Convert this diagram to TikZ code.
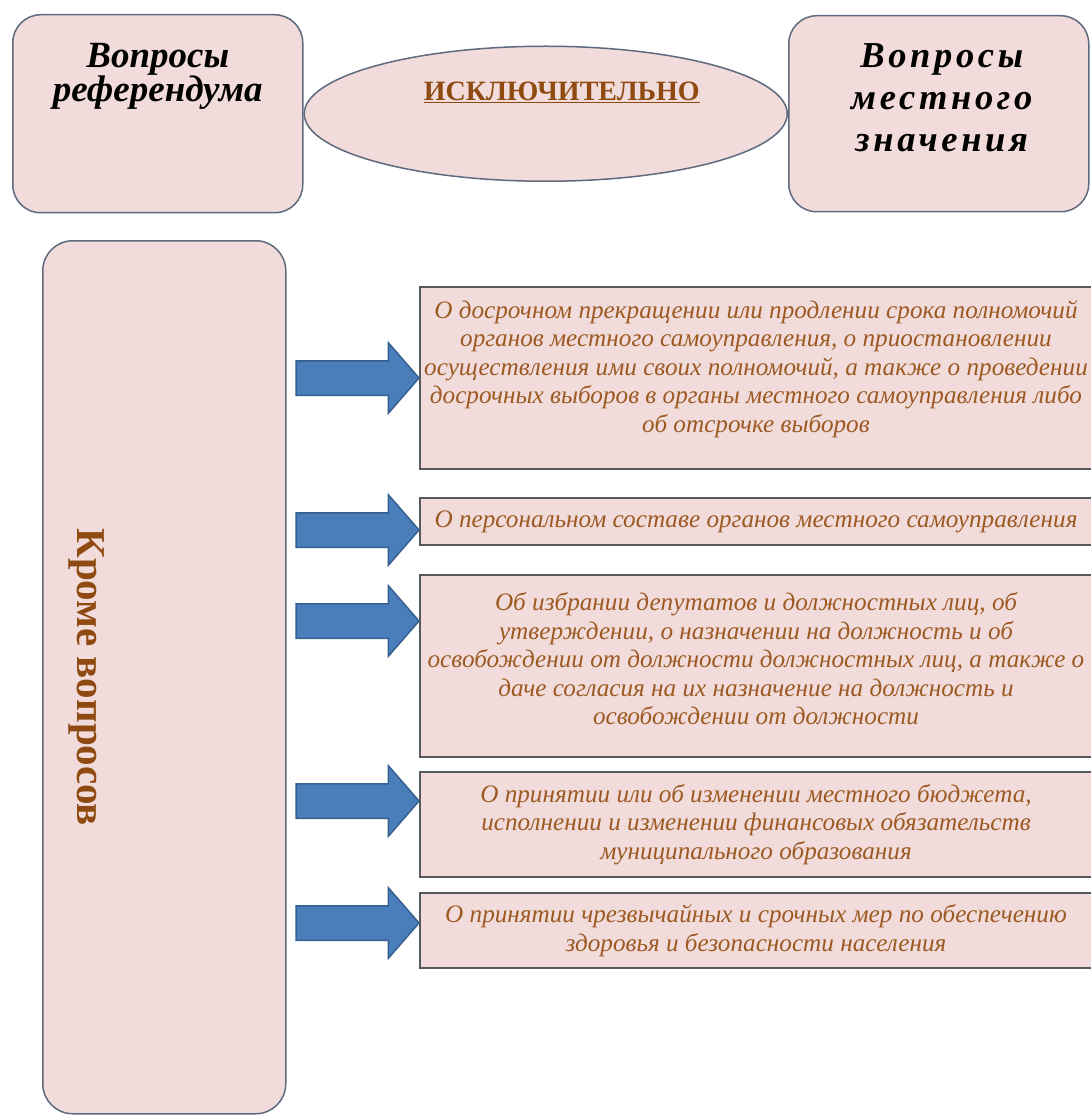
\documentclass[tikz,border=0pt]{standalone}
\usepackage{fontspec}
\setmainfont{Liberation Serif}
\newfontfamily\spacedserif[LetterSpace=10]{Liberation Serif}
\usepackage{xcolor}
\usetikzlibrary{shapes,shapes.geometric,shapes.arrows,positioning,calc}

\definecolor{boxpink}{HTML}{F2DCDB}
\definecolor{boxedge}{HTML}{5E6A7D}
\definecolor{itemedge}{HTML}{58595B}
\definecolor{arrowfill}{HTML}{4A7EBB}
\definecolor{arrowedge}{HTML}{35608F}
\definecolor{darkbrown}{HTML}{8E4A10}
\definecolor{itembrown}{HTML}{9C5A22}

\begin{document}
\begin{tikzpicture}[x=1pt,y=-1pt]
    \newcommand{\itemwidth}[0]{672pt}
    \newcommand{\itemgap}[0]{29pt}

    \tikzstyle{roundbox} = [
      anchor=north west,
      draw=boxedge,
      line width=1.5pt,
      fill=boxpink,
      rounded corners=28pt,
      inner sep=0pt,
    ]
    \tikzstyle{title} = [
      anchor=north,
      align=center,
      inner sep=0pt,
    ]
    \tikzstyle{itembox} = [
      anchor=north west,
      draw=itemedge,
      line width=1.5pt,
      fill=boxpink,
      inner sep=0pt,
      outer sep=0pt,
      minimum width=\itemwidth,
    ]
    \tikzstyle{itemtext} = [
      anchor=center,
      align=center,
      inner sep=0pt,
      text=itembrown,
      font=\itshape\fontsize{25.2}{28.5}\selectfont,
    ]
    \tikzstyle{blockarrow} = [
      shape=single arrow,
      anchor=tip,
      draw=arrowedge,
      fill=arrowfill,
      line width=1.5pt,
      inner sep=0pt,
      inner ysep=16.5pt,
      minimum height=123pt,
      minimum width=69pt,
      single arrow head extend=18pt,
      single arrow tip angle=98,
    ]

    \useasboundingbox[fill=white] (0,0) rectangle (1090,1115);

    \coordinate (refAnchor) at (12,14);
    \coordinate (localAnchor) at (788,15);
    \coordinate (exceptAnchor) at (42,240);
    \coordinate (itemAnchor) at (420,287);

    % referendum box
    {
      \node[roundbox, minimum width=290pt, minimum height=198pt] (refBox) at (refAnchor) {};
      \node[title, font=\bfseries\itshape\fontsize{37}{33}\selectfont] (refTitle) at ([yshift=-29pt] refBox.north) {Вопросы\\референдума};
    }

    % local box
    {
      \node[roundbox, minimum width=300pt, minimum height=196pt] (localBox) at (localAnchor) {};
      \node[title, font=\spacedserif\bfseries\itshape\fontsize{36.5}{42}\selectfont] (localTitle) at ([xshift=3pt, yshift=-28pt] localBox.north) {Вопросы\\местного\\значения};
    }

    % only
    {
      \node[ellipse, draw=boxedge, line width=1.5pt, fill=boxpink, minimum width=483pt, minimum height=135pt, inner sep=0pt] (onlyEll) at ($(refBox.east)!0.5!(localBox.west)$) {};
      \node[font=\bfseries\fontsize{28}{30}\selectfont, text=darkbrown, inner sep=0pt] (onlyText) at ([xshift=16pt, yshift=21pt] onlyEll.center) {\underline{ИСКЛЮЧИТЕЛЬНО}};
    }

    % except
    {
      \node[roundbox, rounded corners=30pt, minimum width=243pt, minimum height=873pt] (exceptBox) at (exceptAnchor) {};
      \node[rotate=-90, font=\bfseries\fontsize{41}{41}\selectfont, text=darkbrown, inner sep=0pt] (exceptText) at ([xshift=45pt] exceptBox.west) {Кроме вопросов};
    }

    % item boxes
    {
      \node[itembox, minimum height=182pt] (itemI) at (itemAnchor) {};
      \node[itembox, minimum height=47pt, below=\itemgap of itemI] (itemII) {};
      \node[itembox, minimum height=182pt, below=30pt of itemII] (itemIII) {};
      \node[itembox, minimum height=105pt, below=15pt of itemIII] (itemIV) {};
      \node[itembox, minimum height=75pt, below=16pt of itemIV] (itemV) {};
    }

    % item texts
    {
      \node[itemtext] (itemIText) at ([yshift=9pt] itemI.center) {О досрочном прекращении или продлении срока полномочий\\органов местного самоуправления, о приостановлении\\осуществления ими своих полномочий, а также о проведении\\досрочных выборов в органы местного самоуправления либо\\об отсрочке выборов};
      \node[itemtext] (itemIIText) at (itemII.center) {О персональном составе органов местного самоуправления};
      \node[itemtext] (itemIIIText) at ([yshift=7pt] itemIII.center) {Об избрании депутатов и должностных лиц, об\\утверждении,  о назначении на должность и об\\освобождении от должности должностных лиц, а также о\\даче согласия на их назначение на должность и\\освобождении от должности};
      \node[itemtext] (itemIVText) at (itemIV.center) {О принятии или об изменении местного бюджета,\\исполнении и изменении финансовых обязательств\\муниципального образования};
      \node[itemtext] (itemVText) at (itemV.center) {О принятии чрезвычайных и срочных мер по обеспечению\\здоровья и безопасности населения};
    }

    % arrows
    {
      \node[blockarrow] (arrowI)   at ([yshift=-91pt] itemI.north west) {};
      \node[blockarrow] (arrowII)  at ([yshift=-32pt] itemII.north west) {};
      \node[blockarrow] (arrowIII) at ([yshift=-46pt] itemIII.north west) {};
      \node[blockarrow] (arrowIV)  at ([yshift=-29pt] itemIV.north west) {};
      \node[blockarrow] (arrowV)   at ([yshift=-30pt] itemV.north west) {};
    }
\end{tikzpicture}
\end{document}
